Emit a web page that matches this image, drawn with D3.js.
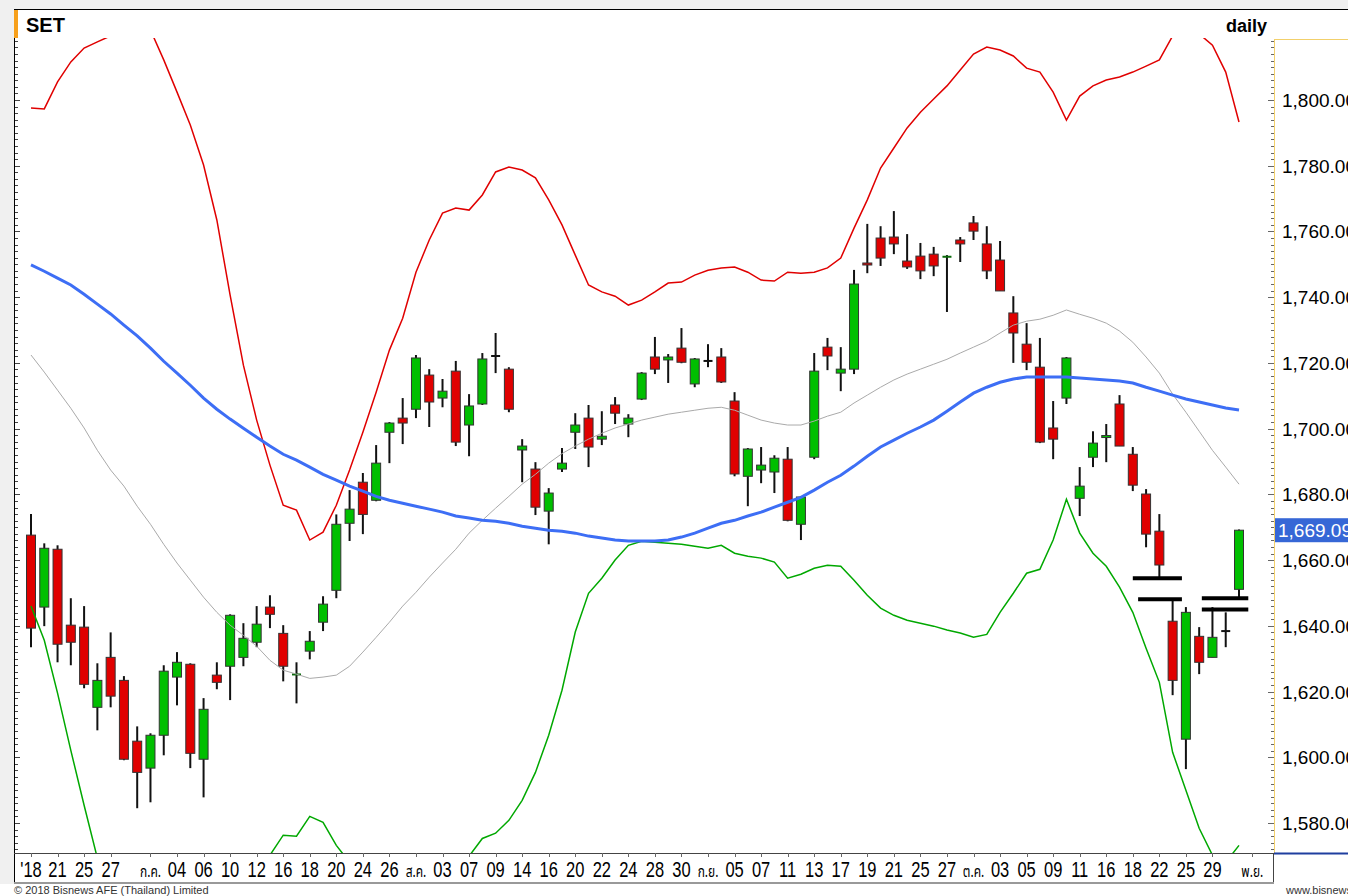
<!DOCTYPE html>
<html>
<head>
<meta charset="utf-8">
<script src="https://cdn.jsdelivr.net/npm/d3@7"></script>
<style>
html, body { margin: 0; padding: 0; background: #f0f0f0; overflow: hidden; }
svg { display: block; }
text { font-family: "Liberation Sans", Arial, sans-serif; }
</style>
</head>
<body>
<svg id="chart" width="1348" height="896"></svg>
<script>
// SET index, daily, 19 Jun - 31 Oct 2018
const open = [1667.6,1645.7,1663.3,1640.2,1639.6,1615.2,1630.4,1623.4,1604.9,1596.7,
  1606.7,1624.4,1628.3,1599.4,1625.0,1627.7,1630.4,1635.0,1645.7,1637.7,
  1624.8,1632.3,1641.1,1650.8,1671.2,1683.7,1678.2,1698.9,1703.2,1705.9,
  1716.3,1709.3,1717.5,1701.1,1707.5,1722.1,1718.1,1693.5,1687.7,1674.9,
  1687.7,1698.9,1703.2,1696.8,1707.2,1701.4,1709.0,1721.8,1720.9,1724.5,
  1713.6,1720.6,1721.8,1708.4,1685.5,1687.4,1686.8,1690.7,1670.9,1691.3,
  1724.8,1716.9,1718.1,1750.4,1758.0,1758.3,1751.0,1752.5,1753.1,1752.0,
  1757.4,1762.6,1756.2,1751.3,1735.2,1725.7,1718.7,1700.2,1709.3,1678.8,
  1691.3,1697.3,1707.5,1692.2,1680.1,1668.8,1641.4,1605.5,1636.8,1630.4,
  1638.4,1651.1];
const high = [1674.0,1665.1,1664.5,1648.4,1646.0,1628.6,1638.0,1624.7,1609.4,1607.3,
  1628.0,1632.0,1628.6,1618.0,1628.9,1643.5,1640.8,1646.0,1649.3,1640.2,
  1628.9,1638.4,1649.0,1673.9,1681.3,1686.5,1695.0,1702.0,1709.3,1722.4,
  1718.1,1715.1,1720.6,1710.5,1723.0,1729.1,1718.7,1696.8,1689.8,1681.9,
  1694.1,1704.7,1707.2,1705.3,1709.6,1704.4,1717.2,1727.9,1722.7,1730.6,
  1721.5,1725.7,1724.5,1711.1,1694.1,1694.4,1691.9,1694.4,1679.5,1723.0,
  1727.6,1724.8,1748.3,1762.3,1761.6,1766.2,1759.2,1756.5,1755.3,1752.8,
  1758.3,1764.7,1761.6,1757.1,1740.3,1732.1,1727.6,1708.4,1721.8,1688.3,
  1699.2,1701.4,1710.2,1694.4,1681.6,1674.0,1647.8,1645.7,1639.6,1645.7,
  1644.1,1669.3];
const low = [1633.5,1639.9,1628.9,1628.0,1621.0,1608.2,1615.2,1599.1,1584.5,1586.3,
  1600.6,1615.8,1596.7,1587.8,1620.7,1617.4,1627.7,1633.5,1639.3,1623.1,
  1616.4,1629.8,1638.4,1648.4,1665.8,1667.9,1677.9,1689.5,1695.3,1703.2,
  1700.5,1706.5,1694.7,1691.6,1707.2,1716.9,1705.0,1683.7,1673.7,1664.8,
  1686.8,1693.8,1688.3,1695.0,1701.4,1697.4,1708.7,1716.6,1713.9,1719.9,
  1712.6,1718.7,1713.9,1685.5,1676.4,1683.4,1680.4,1671.8,1666.1,1690.7,
  1717.8,1711.4,1716.6,1747.3,1749.5,1753.1,1748.6,1745.5,1746.4,1735.5,
  1750.7,1757.4,1745.5,1741.9,1720.0,1717.8,1695.6,1690.7,1707.5,1673.4,
  1688.3,1689.8,1694.7,1681.0,1663.9,1654.8,1618.9,1596.4,1625.3,1630.4,
  1633.5,1648.7];
const close = [1639.3,1663.6,1634.4,1635.0,1622.2,1623.4,1618.6,1599.4,1595.4,1606.7,
  1626.2,1628.9,1601.2,1614.6,1622.8,1643.2,1636.2,1640.5,1643.5,1627.7,
  1625.2,1635.3,1646.6,1670.9,1675.5,1673.9,1689.5,1701.7,1701.7,1721.5,
  1708.1,1711.4,1695.9,1706.9,1721.2,1722.1,1705.9,1694.7,1676.1,1680.4,
  1689.5,1701.1,1694.4,1697.7,1704.7,1703.2,1716.9,1718.1,1721.8,1720.2,
  1721.2,1720.6,1714.2,1686.2,1693.8,1688.9,1691.0,1672.1,1679.2,1717.5,
  1722.1,1718.1,1744.0,1749.8,1751.9,1756.2,1749.2,1748.0,1749.5,1752.3,
  1756.2,1760.1,1748.0,1741.9,1729.1,1720.2,1695.9,1696.8,1721.5,1682.5,
  1695.6,1697.9,1694.7,1682.8,1667.9,1658.5,1623.4,1644.1,1628.9,1636.5,
  1638.4,1669.09];

// Bollinger bands
const bbUpper = [1797.6,1797.3,1805.5,1811.6,1815.8,1817.7,1819.5,1823.7,1825.0,1821.3,
  1812.2,1802.4,1792.4,1780.2,1763.5,1740.6,1719.3,1702.6,1688.9,1676.7,
  1675.2,1666.1,1668.5,1676.7,1687.4,1698.9,1711.1,1723.9,1733.6,1747.6,
  1757.4,1765.6,1767.1,1766.5,1771.1,1778.1,1779.6,1778.7,1776.3,1769.6,
  1762.0,1752.8,1743.7,1741.6,1740.3,1737.6,1739.1,1741.6,1744.3,1744.6,
  1746.7,1748.2,1748.9,1749.2,1747.6,1745.2,1744.9,1747.6,1747.3,1747.6,
  1748.9,1751.9,1761.0,1769.6,1779.3,1785.4,1791.5,1796.3,1800.3,1804.3,
  1809.1,1814.0,1816.1,1815.2,1813.4,1809.7,1808.5,1802.4,1793.9,1801.2,
  1804.3,1806.1,1807.0,1808.5,1810.3,1812.2,1819.5,1820.1,1820.1,1816.7,
  1808.5,1793.3];
const bbMiddle = [1722.4,1717.2,1711.7,1706.2,1700.2,1693.4,1687.4,1682.5,1676.4,1670.9,
  1664.8,1659.1,1653.9,1648.7,1644.1,1640.2,1637.1,1633.8,1629.5,1626.5,
  1625.3,1624.0,1624.4,1625.0,1627.7,1632.0,1636.5,1641.1,1646.0,1650.2,
  1654.8,1659.1,1663.3,1668.2,1672.1,1675.8,1679.4,1683.1,1686.1,1689.5,
  1692.4,1694.7,1696.8,1698.6,1700.2,1701.4,1702.6,1703.5,1704.4,1705.0,
  1705.6,1706.2,1706.5,1705.6,1704.1,1702.6,1701.7,1701.1,1701.1,1702.3,
  1703.8,1705.0,1707.8,1710.2,1712.6,1714.8,1716.6,1718.1,1719.6,1721.1,
  1723.0,1724.8,1726.6,1729.1,1731.5,1732.7,1733.3,1734.5,1736.1,1734.8,
  1733.6,1732.1,1729.7,1726.3,1721.8,1716.9,1710.5,1705.0,1699.2,1693.4,
  1688.3,1683.1];
const bbLower = [1646.0,1635.6,1619.5,1602.1,1585.4,1569.3,1555.2,1541.2,1527.9,1520.5,
  1517.5,1515.7,1515.4,1517.2,1524.8,1539.7,1554.9,1565.0,1570.2,1576.3,
  1576.0,1582.0,1580.2,1573.2,1568.0,1565.0,1561.9,1558.3,1558.3,1552.8,
  1552.2,1552.5,1559.5,1569.9,1575.3,1576.9,1580.8,1586.9,1595.4,1606.7,
  1620.4,1638.1,1649.9,1654.5,1660.0,1664.5,1665.7,1665.4,1665.1,1664.8,
  1664.2,1663.6,1664.5,1662.1,1661.2,1660.6,1659.4,1654.5,1655.7,1657.5,
  1658.4,1658.1,1653.9,1649.3,1645.4,1643.2,1641.7,1640.8,1639.9,1638.7,
  1637.8,1636.5,1637.4,1644.1,1649.9,1656.0,1657.2,1666.1,1678.5,1668.2,
  1662.1,1658.1,1651.8,1644.1,1633.2,1622.8,1601.5,1590.0,1578.4,1570.2,
  1568.0,1573.2];

// moving average (blue)
const maLong = [1749.8,1747.9,1745.8,1743.7,1740.9,1737.9,1734.9,1731.5,1728.2,1724.5,
  1720.5,1716.9,1713.2,1709.3,1705.9,1702.9,1700.1,1697.4,1694.7,1692.2,
  1690.4,1688.3,1686.1,1684.3,1682.5,1681.0,1679.4,1678.2,1677.3,1676.4,
  1675.5,1674.6,1673.4,1672.8,1672.1,1671.8,1671.2,1670.3,1669.7,1669.1,
  1668.8,1668.2,1667.3,1666.7,1666.1,1665.8,1665.8,1665.8,1666.1,1667.0,
  1668.2,1669.7,1671.2,1672.1,1673.4,1674.6,1676.1,1677.6,1679.1,1681.3,
  1683.7,1685.8,1688.6,1691.6,1694.4,1696.5,1698.6,1700.5,1702.6,1705.3,
  1708.1,1710.8,1712.6,1714.1,1715.1,1715.7,1715.7,1715.7,1715.7,1715.4,
  1715.1,1714.8,1714.5,1713.9,1712.6,1711.4,1710.2,1709.0,1708.1,1707.2,
  1706.3,1705.7];

// gap levels: [from candle, to candle, price]
const levels = [[83, 86.7, 1654.5], [83.4, 86.7, 1648.1], [88.2, 91.7, 1648.4], [88.2, 91.7, 1645.0]];

const tickIdx = [0,2,4,6,9,11,13,15,17,19,21,23,25,27,29,31,33,35,37,39,41,43,45,47,49,
  51,53,55,57,59,61,63,65,67,69,71,73,75,77,79,81,83,85,87,89,92];
const tickText = ["'18","21","25","27","ก.ค.","04","06","10","12","16","18","20","24","26",
  "ส.ค.","03","07","09","14","16","20","22","24","28","30","ก.ย.","05","07","11","13",
  "17","19","21","25","27","ต.ค.","03","05","09","11","16","18","22","25","29","พ.ย."];

const lastPrice = 1669.09;

const svg = d3.select("#chart");
const plotL = 15, plotR = 1273, plotT = 38, plotB = 853;

const x = d3.scaleLinear().domain([0, 91]).range([31, 1239]);
const y = d3.scaleLinear().domain([1580, 1800]).range([823, 100]);
const fmt = d3.format(",.2f");

// frame
svg.append("rect").attr("x", 0).attr("y", 884).attr("width", 1348).attr("height", 12).attr("fill", "#fff");
svg.append("rect").attr("x", 14).attr("y", 9).attr("width", 1334).attr("height", 875).attr("fill", "#fff");
svg.append("line").attr("x1", 14).attr("x2", 1348).attr("y1", 9.5).attr("y2", 9.5).attr("stroke", "#000");
svg.append("line").attr("x1", 14.5).attr("x2", 14.5).attr("y1", 9).attr("y2", 883).attr("stroke", "#000");
svg.append("rect").attr("x", 14).attr("y", 10).attr("width", 4).attr("height", 28).attr("fill", "#f7a01c");

svg.append("text").attr("x", 26).attr("y", 32).attr("font-size", 20).attr("font-weight", "bold").text("SET");
svg.append("text").attr("x", 1267).attr("y", 32).attr("font-size", 18).attr("font-weight", "bold")
  .attr("text-anchor", "end").text("daily");

svg.append("defs").append("clipPath").attr("id", "plotClip")
  .append("rect").attr("x", plotL).attr("y", plotT).attr("width", plotR - plotL).attr("height", plotB - plotT);

// right axis
const axisTicks = d3.range(1572, 1819, 2);
const rAxis = svg.append("g");
rAxis.append("line").attr("x1", 1274.5).attr("x2", 1274.5).attr("y1", 39).attr("y2", 853).attr("stroke", "#f2d06b");
rAxis.append("line").attr("x1", 1274).attr("x2", 1348).attr("y1", 39.5).attr("y2", 39.5).attr("stroke", "#f2d06b");
rAxis.selectAll(".rt").data(axisTicks.filter(v => y(v) > plotT && y(v) < plotB)).enter().append("line")
  .attr("x1", v => v % 20 === 0 ? 1268 : 1271).attr("x2", 1274)
  .attr("y1", v => Math.round(y(v)) + 0.5).attr("y2", v => Math.round(y(v)) + 0.5)
  .attr("stroke", "#666");
rAxis.selectAll(".rl").data(d3.range(1580, 1801, 20)).enter().append("text")
  .attr("x", 1282).attr("y", v => y(v) + 7).attr("font-size", 19).attr("fill", "#000").text(fmt);

// left ticks
svg.selectAll(".lt").data(axisTicks.filter(v => y(v) > plotT && y(v) < plotB)).enter().append("line")
  .attr("x1", 15).attr("x2", v => v % 20 === 0 ? 20 : 18)
  .attr("y1", v => Math.round(y(v)) + 0.5).attr("y2", v => Math.round(y(v)) + 0.5)
  .attr("stroke", "#444");

// bottom axis
svg.append("line").attr("x1", 14).attr("x2", 1274).attr("y1", 853.5).attr("y2", 853.5).attr("stroke", "#444");
svg.append("line").attr("x1", 1274).attr("x2", 1348).attr("y1", 853.5).attr("y2", 853.5).attr("stroke", "#1f3f9f").attr("stroke-width", 2);
svg.append("line").attr("x1", 1273.5).attr("x2", 1273.5).attr("y1", 853).attr("y2", 884).attr("stroke", "#444");
svg.append("line").attr("x1", 14).attr("x2", 1274).attr("y1", 883).attr("y2", 883).attr("stroke", "#999").attr("stroke-width", 2);
svg.selectAll(".bt").data(tickIdx).enter().append("line")
  .attr("x1", d => Math.round(x(d)) + 0.5).attr("x2", d => Math.round(x(d)) + 0.5)
  .attr("y1", 853).attr("y2", 857).attr("stroke", "#666");
svg.selectAll(".bl").data(tickIdx).enter().append("text")
  .attr("transform", d => `translate(${x(d)},877) scale(0.75,1)`)
  .attr("text-anchor", "middle")
  .attr("font-size", (d, i) => /\d/.test(tickText[i]) ? 22 : 16)
  .style("font-family", (d, i) => /\d/.test(tickText[i]) ? null : "'Noto Sans Thai','Tahoma','DejaVu Sans',sans-serif")
  .text((d, i) => tickText[i]);

// footer
svg.append("text").attr("x", 14).attr("y", 894).attr("font-size", 11).attr("fill", "#333")
  .text("© 2018 Bisnews AFE (Thailand) Limited");
svg.append("text").attr("x", 1286).attr("y", 894).attr("font-size", 11).attr("fill", "#333")
  .text("www.bisnews.com");

// candles
const plot = svg.append("g").attr("clip-path", "url(#plotClip)");
const candles = plot.selectAll(".candle").data(d3.range(open.length)).enter().append("g");
candles.append("line")
  .attr("x1", i => x(i)).attr("x2", i => x(i))
  .attr("y1", i => y(high[i])).attr("y2", i => y(low[i]))
  .attr("stroke", "#111").attr("stroke-width", 2);
candles.filter(i => Math.abs(open[i] - close[i]) >= 0.5).append("rect")
  .attr("x", i => x(i) - 4.5).attr("width", 9)
  .attr("y", i => y(Math.max(open[i], close[i])))
  .attr("height", i => Math.max(2, y(Math.min(open[i], close[i])) - y(Math.max(open[i], close[i]))))
  .attr("fill", i => close[i] > open[i] ? "#00bf00" : "#e00000")
  .attr("stroke", "#333").attr("stroke-width", 1);
candles.filter(i => Math.abs(open[i] - close[i]) < 0.5).append("line")
  .attr("x1", i => x(i) - 4.5).attr("x2", i => x(i) + 4.5)
  .attr("y1", i => y(close[i])).attr("y2", i => y(close[i]))
  .attr("stroke", i => close[i] > open[i] ? "#0a6a0a" : "#111").attr("stroke-width", 2);

// indicator lines
const line = d3.line().x((d, i) => x(i)).y(d => y(d));
plot.append("path").attr("d", line(bbMiddle)).attr("fill", "none").attr("stroke", "#aaa").attr("stroke-width", 1);
plot.append("path").attr("d", line(bbUpper)).attr("fill", "none").attr("stroke", "#e00000").attr("stroke-width", 1.5);
plot.append("path").attr("d", line(bbLower)).attr("fill", "none").attr("stroke", "#00a800").attr("stroke-width", 1.5);
plot.append("path").attr("d", line(maLong)).attr("fill", "none").attr("stroke", "#3d6ef5").attr("stroke-width", 3);

plot.selectAll(".lvl").data(levels).enter().append("line")
  .attr("x1", d => x(d[0])).attr("x2", d => x(d[1]))
  .attr("y1", d => y(d[2])).attr("y2", d => y(d[2]))
  .attr("stroke", "#000").attr("stroke-width", 4);

// last price tag
svg.append("rect").attr("x", 1275).attr("y", y(lastPrice) - 12).attr("width", 73).attr("height", 24).attr("fill", "#3667d6");
svg.append("text").attr("x", 1278).attr("y", y(lastPrice) + 7).attr("font-size", 19).attr("fill", "#fff").text(fmt(lastPrice));
</script>
</body>
</html>
